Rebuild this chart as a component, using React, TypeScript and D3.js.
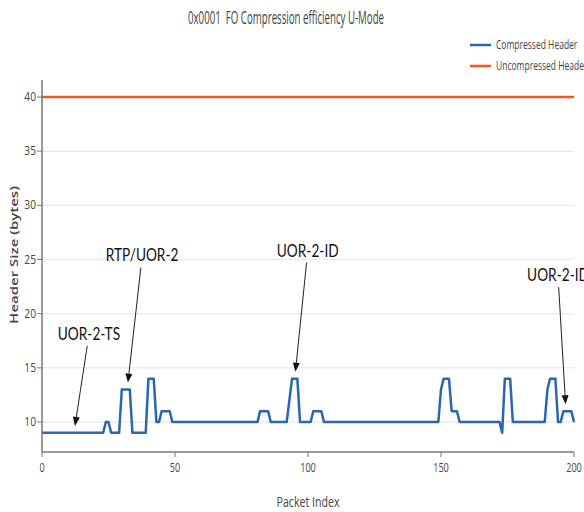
import React from 'react';
import * as d3 from 'd3';

// compressed header size per packet (bytes), packets 0..200
const compressed = [
  9, 9, 9, 9, 9, 9, 9, 9, 9, 9, 9, 9, 9, 9, 9, 9, 9, 9, 9, 9,
  9, 9, 9, 9, 10, 10, 9, 9, 9, 9, 13, 13, 13, 13, 9, 9, 9, 9, 9, 9,
  14, 14, 14, 10, 10, 11, 11, 11, 11, 10, 10, 10, 10, 10, 10, 10, 10, 10, 10, 10,
  10, 10, 10, 10, 10, 10, 10, 10, 10, 10, 10, 10, 10, 10, 10, 10, 10, 10, 10, 10,
  10, 10, 11, 11, 11, 11, 10, 10, 10, 10, 10, 10, 10, 12, 14, 14, 14, 10, 10, 10,
  10, 10, 11, 11, 11, 11, 10, 10, 10, 10, 10, 10, 10, 10, 10, 10, 10, 10, 10, 10,
  10, 10, 10, 10, 10, 10, 10, 10, 10, 10, 10, 10, 10, 10, 10, 10, 10, 10, 10, 10,
  10, 10, 10, 10, 10, 10, 10, 10, 10, 10, 13, 14, 14, 14, 11, 11, 11, 10, 10, 10,
  10, 10, 10, 10, 10, 10, 10, 10, 10, 10, 10, 10, 10, 9, 14, 14, 14, 10, 10, 10,
  10, 10, 10, 10, 10, 10, 10, 10, 10, 10, 13, 14, 14, 14, 10, 10, 11, 11, 11, 11,
  10,
];
const uncompressed = 40;

const xTicks = [0, 50, 100, 150, 200];
const yTicks = [10, 15, 20, 25, 30, 35, 40];

const legendLabels = ['Compressed Header', 'Uncompressed Header'];
const colors = ['#2a67ad', '#fb5517'];

// annotations: packet index, value, text offset in px (plotly style ax/ay)
const annText = ['UOR-2-TS', 'RTP/UOR-2', 'UOR-2-ID', 'UOR-2-ID'];
const annX = [12, 32, 95, 197];
const annY = [9, 13, 14, 11];
const annAx = [15, 15, 13, -8];
const annAy = [-98, -133, -127, -135];

const W = 584;
const H = 512;

const STxt = ({ x, y, size, sx = 0.76, anchor = 'start', fill = '#444', family = 'Open Sans', weight = 400, children, rotate = 0 }: any) => (
  <text
    transform={`translate(${x},${y}) rotate(${rotate}) scale(${rotate ? 1 : sx},${rotate ? sx : 1})`}
    fontFamily={family}
    fontSize={size}
    fontWeight={weight}
    textAnchor={anchor}
    fill={fill}
    style={{ whiteSpace: 'pre' }}
  >
    {children}
  </text>
);

export default function App() {
  const x = d3.scaleLinear().domain([0, 200]).range([42, 574]);
  const y = d3.scaleLinear().domain([7.23, 41.57]).range([452, 80]);

  const line = d3
    .line<number>()
    .x((_, i) => x(i))
    .y((d) => y(d));

  return (
    <svg width={W} height={H} style={{ position: 'absolute', left: 0, top: 0 }}>
      <rect width={W} height={H} fill="#fff" />
      <text
        x={286}
        y={24}
        fontFamily="Open Sans"
        fontSize={17.5}
        textAnchor="middle"
        fill="#444"
        textLength={196}
        lengthAdjust="spacingAndGlyphs"
        style={{ whiteSpace: 'pre' }}
      >
        {'0x0001  FO Compression efficiency U-Mode'}
      </text>

      {/* grid */}
      {yTicks.map((t) => (
        <line key={t} x1={x(0)} x2={x(200)} y1={y(t)} y2={y(t)} stroke="#ebebeb" strokeWidth={1.5} />
      ))}

      {/* series */}
      <line x1={x(0)} x2={x(200)} y1={y(uncompressed)} y2={y(uncompressed)} stroke={colors[1]} strokeWidth={2.5} />
      <path d={line(compressed) || ''} fill="none" stroke={colors[0]} strokeWidth={2.5} strokeLinejoin="round" />

      {/* axes */}
      <line x1={x(0)} x2={x(0)} y1={y.range()[1]} y2={y.range()[0]} stroke="#777" strokeWidth={1.5} />
      <line x1={x(0)} x2={x(200)} y1={y.range()[0]} y2={y.range()[0]} stroke="#777" strokeWidth={1.5} />
      {yTicks.map((t) => (
        <g key={t}>
          <line x1={x(0) - 5} x2={x(0)} y1={y(t)} y2={y(t)} stroke="#777" />
          <STxt x={x(0) - 6} y={y(t) + 4} size={12} sx={0.85} anchor="end">
            {t}
          </STxt>
        </g>
      ))}
      {xTicks.map((t) => (
        <g key={t}>
          <line x1={x(t)} x2={x(t)} y1={y.range()[0]} y2={y.range()[0] + 5} stroke="#777" />
          <STxt x={x(t)} y={y.range()[0] + 20} size={12} anchor="middle">
            {t}
          </STxt>
        </g>
      ))}
      <STxt x={x(100)} y={507} size={14} anchor="middle">
        Packet Index
      </STxt>
      <STxt x={18} y={255} size={15} weight={600} anchor="middle" rotate={-90}>
        Header Size (bytes)
      </STxt>

      {/* legend */}
      {legendLabels.map((l, i) => (
        <g key={l}>
          <line x1={470} x2={491} y1={45 + i * 21} y2={45 + i * 21} stroke={colors[i]} strokeWidth={2.5} />
          <STxt x={496} y={49 + i * 21} size={12} sx={0.71}>
            {l}
          </STxt>
        </g>
      ))}

      {/* annotations */}
      {annText.map((t, i) => {
        const px = x(annX[i]);
        const py = y(annY[i]);
        const tx = px + annAx[i];
        const ty = py + annAy[i];
        const tailY = ty + 11;
        const tailX = tx - annAx[i] * (11 / -annAy[i]);
        const dx = tailX - px;
        const dy = tailY - py;
        const len = Math.hypot(dx, dy);
        const ux = dx / len;
        const uy = dy / len;
        const tipX = px + ux * 7;
        const tipY = py + uy * 7;
        const baseX = tipX + ux * 9;
        const baseY = tipY + uy * 9;
        return (
          <g key={i}>
            <line x1={tailX} y1={tailY} x2={baseX} y2={baseY} stroke="#222" strokeWidth={1} />
            <path
              d={`M${tipX},${tipY}L${baseX - uy * 3.5},${baseY + ux * 3.5}L${baseX + uy * 3.5},${baseY - ux * 3.5}Z`}
              fill="#111"
            />
            <STxt x={tx} y={ty + 5} size={18} sx={0.76} family="Lato" anchor="middle" fill="#111">
              {t}
            </STxt>
          </g>
        );
      })}
    </svg>
  );
}
